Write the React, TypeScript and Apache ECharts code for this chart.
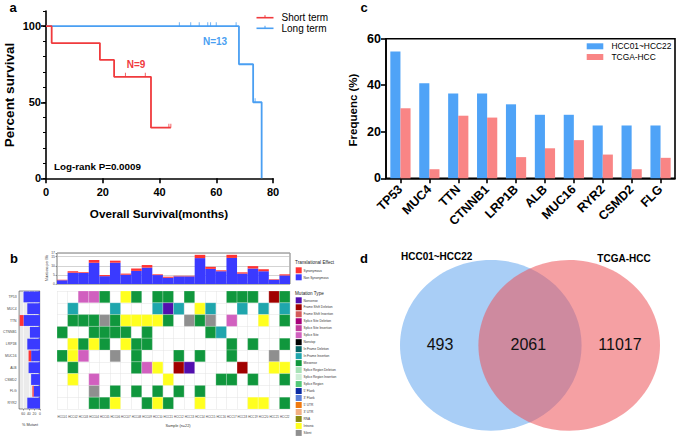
import React, { useEffect, useRef } from 'react';
import * as echarts from 'echarts';

// ---------- Panel a: Kaplan-Meier ----------
const shortTime = [0, 2, 19, 24, 37, 44];
const shortSurv = [100, 88.9, 77.8, 66.7, 33.3, 33.3];
const shortCensorTime = [28, 35, 43.3, 44];
const shortCensorSurv = [66.7, 66.7, 33.3, 33.3];
const longTime = [0, 68, 73, 76];
const longSurv = [100, 75, 50, 0];
const longCensorTime = [47, 51, 54, 57, 58, 60, 67, 73.7];
const longCensorSurv = [100, 100, 100, 100, 100, 100, 100, 50];
const kmXTicks = [0, 20, 40, 60, 80];
const kmYLabels = [0, 50, 100];

// ---------- Panel c: frequency bars ----------
const freqGenes = ['TP53', 'MUC4', 'TTN', 'CTNNB1', 'LRP1B', 'ALB', 'MUC16', 'RYR2', 'CSMD2', 'FLG'];
const hccFreq = [54.5, 40.9, 36.4, 36.4, 31.8, 27.3, 27.3, 22.7, 22.7, 22.7];
const tcgaFreq = [30.1, 3.9, 26.9, 26.1, 9.1, 12.9, 16.4, 10.2, 3.9, 8.8];

// ---------- Panel b: oncoplot ----------
const samples = ['HCC01', 'HCC02', 'HCC03', 'HCC04', 'HCC05', 'HCC06', 'HCC07', 'HCC08', 'HCC09', 'HCC10', 'HCC11',
  'HCC12', 'HCC13', 'HCC14', 'HCC15', 'HCC16', 'HCC17', 'HCC18', 'HCC19', 'HCC20', 'HCC21', 'HCC22'];
const oncoGenes = ['TP53', 'MUC4', 'TTN', 'CTNNB1', 'LRP1B', 'MUC16', 'ALB', 'CSMD2', 'FLG', 'RYR2'];
// codes: . none, M missense, Y intronic, G silent, P splice site, R frame shift deletion, U nonsense, T in frame insertion
const rowTP53 = '..PPM.YM.MM.M...MMM.RM';
const rowMUC4 = '.T...T...TUT.YT..T.T.T';
const rowTTN = '.MMMGMYYYYM.GMG.P..Y.M';
const rowCTNNB1 = 'M..MMMM.M.....MT......';
const rowLRP1B = '.YMYM.YMM.......M.M..M';
const rowMUC16 = 'MYP..G.M...M.M..M...G.';
const rowALB = '.M.....MPY.RU....R..YY';
const rowCSMD2 = '.Y.P......Y....MM.M..M';
const rowFLG = '...G.M.M.M.M.M........';
const rowRYR2 = '...MMY..MYM..Y....YY.M';
const oncoRows = [rowTP53, rowMUC4, rowTTN, rowCTNNB1, rowLRP1B, rowMUC16, rowALB, rowCSMD2, rowFLG, rowRYR2];
const cellColors: Record<string, string> = {
  M: '#10973d', Y: '#ffff1f', G: '#8f8f8f', P: '#d160bf', R: '#a10000', U: '#520fae', T: '#1fa6ad',
};

const tmbNonSyn = [2.0, 6.2, 6.0, 11.7, 4.3, 11.7, 5.1, 7.2, 9.0, 4.9, 3.4, 4.2, 4.2, 14.2, 8.3, 7.0, 14.3, 5.7, 8.5, 7.0, 2.3, 4.7];
const tmbSyn = [0.3, 0.8, 0.4, 1.5, 0.6, 1.1, 0.6, 1.3, 1.4, 0.4, 0.6, 0.3, 0.3, 1.8, 1.1, 0.5, 1.7, 0.7, 1.3, 1.1, 0.3, 0.6];

const mutantNonSyn = [59.1, 45.5, 59.1, 36.4, 45.5, 31.8, 40.9, 31.8, 22.7, 45.5];
const mutantSyn = [0, 0, 13.6, 0, 0, 9.1, 0, 0, 4.5, 0];

const mutationTypeNames = ['Nonsense', 'Frame Shift Deletion', 'Frame Shift Insertion', 'Splice Site Deletion',
  'Splice Site Insertion', 'Splice Site', 'Nonstop', 'In Frame Deletion', 'In Frame Insertion', 'Missense',
  'Splice Region Deletion', 'Splice Region Insertion', 'Splice Region', "5' Flank", "3' Flank", "5' UTR",
  "3' UTR", 'RNA', 'Intronic', 'Silent'];
const mutationTypeColors = ['#520fae', '#a10000', '#d45a5a', '#a8007a', '#c23c9e', '#d160bf', '#000000', '#066666',
  '#1fa6ad', '#10973d', '#a6e2b6', '#cdeed6', '#55c97a', '#0a2aa3', '#5c80d8', '#f07a10', '#f2b083', '#8a8a10',
  '#ffff1f', '#8f8f8f'];
const effectNames = ['Synonymous', 'Non Synonymous'];
const effectColors = ['#ff3333', '#3a3aff'];

// ---------- Panel d: Venn ----------
const vennSets = ['HCC01~HCC22', 'TCGA-HCC'];
const vennCounts = [493, 2061, 11017];

const RED_A = '#f03a3d';
const BLUE_A = '#4a9ff2';
const BLUE_C = '#4fa3f7';
const RED_C = '#f98585';
const FONT = 'Arial, "Liberation Sans", sans-serif';

function buildOption(): any {
  const oncoData: any[] = [];
  oncoRows.forEach((row, gi) => {
    row.split('').forEach((c, si) => {
      if (c !== '.') oncoData.push({ value: [si, gi, c] });
    });
  });

  const txt = (x: number, y: number, text: string, size: number, opts: any = {}) => ({
    type: 'text', x, y, rotation: opts.rotation || 0, silent: true,
    style: {
      text, fill: opts.color || '#000', fontSize: size, fontWeight: opts.bold ? 'bold' : 'normal',
      fontFamily: FONT, align: opts.align || 'center', verticalAlign: opts.valign || 'middle',
    },
  });

  const graphics: any[] = [];
  // panel letters
  graphics.push(txt(13, 7, 'a', 13, { bold: true }));
  graphics.push(txt(14, 258, 'b', 13, { bold: true }));
  graphics.push(txt(364, 7, 'c', 13, { bold: true }));
  graphics.push(txt(364, 258, 'd', 13, { bold: true }));

  // panel a texts
  graphics.push(txt(9, 95, 'Percent survival', 13.5, { bold: true, rotation: Math.PI / 2 }));
  graphics.push(txt(159, 213, 'Overall Survival(months)', 11.7, { bold: true }));
  graphics.push(txt(215, 41, 'N=13', 10, { bold: true, color: BLUE_A }));
  graphics.push(txt(136, 64, 'N=9', 10, { bold: true, color: RED_A }));
  graphics.push(txt(54, 166, 'Log-rank P=0.0009', 9.8, { bold: true, align: 'left' }));
  // panel a legend
  [['Short term', RED_A, 17.7], ['Long term', BLUE_A, 28.3]].forEach(([name, col, y]: any) => {
    graphics.push({ type: 'line', shape: { x1: 256.5, y1: y, x2: 273.5, y2: y }, style: { stroke: col, lineWidth: 1.6 } });
    graphics.push({ type: 'line', shape: { x1: 265, y1: y - 2.5, x2: 265, y2: y }, style: { stroke: col, lineWidth: 1 } });
    graphics.push(txt(281.5, y, name, 10, { align: 'left' }));
  });

  // panel c texts
  graphics.push(txt(353, 110, 'Frequenc (%)', 11.5, { bold: true, rotation: Math.PI / 2 }));
  [[vennSets[0], BLUE_C, 46.3], [vennSets[1], RED_C, 57]].forEach(([name, col, y]: any) => {
    graphics.push({ type: 'rect', shape: { x: 586.7, y: y - 3, width: 16.6, height: 6 }, style: { fill: col } });
    graphics.push(txt(611.5, y, name, 8.4, { align: 'left' }));
  });

  // panel b texts
  graphics.push(txt(46.5, 268, 'Mutations per Mb', 3.4, { rotation: Math.PI / 2, color: '#333' }));
  graphics.push(txt(178, 425.5, 'Sample (n=22)', 3.8, { color: '#333' }));
  graphics.push(txt(30, 425, '% Mutant', 3.8, { color: '#333' }));
  graphics.push(txt(295, 262, 'Translational Effect', 4.6, { align: 'left', color: '#222' }));
  effectNames.forEach((n, i) => {
    const y = 270.3 + i * 7;
    graphics.push({ type: 'rect', shape: { x: 295.7, y: y - 3, width: 6, height: 6 }, style: { fill: effectColors[i] } });
    graphics.push(txt(303.5, y, n, 3.2, { align: 'left', color: '#333' }));
  });
  graphics.push(txt(295, 293.3, 'Mutation Type', 4.6, { align: 'left', color: '#222' }));
  mutationTypeNames.forEach((n, i) => {
    const y = 300.3 + i * 6.98;
    graphics.push({ type: 'rect', shape: { x: 295.7, y: y - 3, width: 6, height: 6 }, style: { fill: mutationTypeColors[i] } });
    graphics.push(txt(303.5, y, n, 3.2, { align: 'left', color: '#333' }));
  });

  // panel d venn
  graphics.push({ type: 'ellipse', shape: { cx: 490.8, cy: 345.3, rx: 90.8, ry: 85.4 }, style: { fill: '#a9cef6' } });
  graphics.push({ type: 'ellipse', shape: { cx: 569.2, cy: 345.3, rx: 90.8, ry: 85.4 }, style: { fill: 'rgba(237,82,88,0.55)' } });
  graphics.push(txt(436.7, 256, vennSets[0], 10, { bold: true }));
  graphics.push(txt(624, 258, vennSets[1], 10, { bold: true }));
  graphics.push(txt(440, 344, String(vennCounts[0]), 16, { color: '#111' }));
  graphics.push(txt(528.3, 344, String(vennCounts[1]), 16, { color: '#111' }));
  graphics.push(txt(620, 344, String(vennCounts[2]), 16, { color: '#111' }));

  const blackLine = { show: true, lineStyle: { color: '#000', width: 1.6 } };
  const boldLabel = (size: number) => ({ color: '#000', fontSize: size, fontWeight: 'bold', fontFamily: FONT });
  const tiny = { color: '#444', fontSize: 3.4, fontFamily: FONT };

  return {
    animation: false,
    backgroundColor: '#fff',
    graphic: graphics,
    grid: [
      { left: 46, top: 11, width: 227, height: 167.3 },
      { left: 386, top: 38.7, width: 289, height: 139.6, show: true, borderColor: '#000', borderWidth: 1.6 },
      { left: 57, top: 253, width: 233, height: 31, show: true, borderColor: '#555', borderWidth: 0.8 },
      { left: 57, top: 291, width: 233, height: 118 },
      { left: 16, top: 291, width: 24, height: 118, show: true, backgroundColor: '#ebebeb', borderColor: '#444', borderWidth: 0.6 },
    ],
    xAxis: [
      {
        gridIndex: 0, type: 'value', min: 0, max: 80, interval: 20,
        axisLine: blackLine, axisTick: { show: true, length: 5, lineStyle: { color: '#000', width: 1.6 } },
        axisLabel: { ...boldLabel(11), margin: 8, customValues: kmXTicks }, splitLine: { show: false },
      },
      {
        gridIndex: 1, type: 'category', data: freqGenes,
        axisLine: blackLine, axisTick: { show: true, alignWithLabel: true, length: 5, lineStyle: { color: '#000', width: 1.6 } },
        axisLabel: { ...boldLabel(12.5), rotate: 45, interval: 0, margin: 9 },
      },
      {
        gridIndex: 2, type: 'category', data: samples,
        axisLine: { show: false }, axisTick: { show: false }, axisLabel: { show: false },
      },
      {
        gridIndex: 3, type: 'category', data: samples,
        axisLine: { show: false }, axisTick: { show: false },
        axisLabel: { ...tiny, fontSize: 2.9, interval: 0, margin: 6 },
        splitLine: { show: true, interval: 0, lineStyle: { color: '#e3e3e3', width: 0.5 } },
      },
      {
        gridIndex: 4, type: 'value', inverse: true, min: 0, max: 75,
        axisLine: { show: false },
        axisTick: { show: true, length: 1.5, customValues: [0, 20, 40, 60], lineStyle: { color: '#444', width: 0.5 } },
        axisLabel: { ...tiny, margin: 3, customValues: [0, 20, 40, 60] },
        splitLine: { show: true, lineStyle: { color: '#ffffff', width: 0.6 } },
        interval: 20,
      },
    ],
    yAxis: [
      {
        gridIndex: 0, type: 'value', min: 0, max: 110, position: 'left',
        axisLine: blackLine,
        axisTick: { show: true, length: 5, customValues: kmYLabels, lineStyle: { color: '#000', width: 1.6 } },
        axisLabel: { ...boldLabel(11), margin: 5, customValues: kmYLabels }, splitLine: { show: false },
      },
      {
        gridIndex: 0, type: 'value', min: 0, max: 110, interval: 10, position: 'left', offset: 0,
        axisLine: { show: false }, axisTick: { show: true, length: 3, lineStyle: { color: '#000', width: 1 } },
        axisLabel: { show: false }, splitLine: { show: false },
      },
      {
        gridIndex: 1, type: 'value', min: 0, max: 60, interval: 20,
        axisLine: blackLine, axisTick: { show: true, length: 5, lineStyle: { color: '#000', width: 1.6 } },
        axisLabel: { ...boldLabel(12.5), margin: 5 }, splitLine: { show: false },
      },
      {
        gridIndex: 2, type: 'value', min: 0, max: 17, interval: 5,
        axisLine: { show: false }, axisTick: { show: true, length: 1.5, lineStyle: { color: '#444', width: 0.5 } },
        axisLabel: { ...tiny, margin: 2 },
        splitLine: { show: true, lineStyle: { color: '#b5b5b5', width: 0.6 } },
      },
      {
        gridIndex: 3, type: 'category', data: oncoGenes, inverse: true,
        axisLine: { show: false }, axisTick: { show: false }, axisLabel: { show: false },
        splitLine: { show: true, interval: 0, lineStyle: { color: '#e3e3e3', width: 0.5 } },
      },
      {
        gridIndex: 4, type: 'category', data: oncoGenes, inverse: true,
        axisLine: { show: false }, axisTick: { show: true, length: 1.5, lineStyle: { color: '#444', width: 0.5 } },
        axisLabel: { ...tiny, interval: 0, margin: 2.5 },
      },
    ],
    series: [
      {
        type: 'line', name: 'Short term', xAxisIndex: 0, yAxisIndex: 0, step: 'end', symbol: 'none',
        data: shortTime.map((t, i) => [t, shortSurv[i]]), lineStyle: { color: RED_A, width: 1.8 }, z: 4,
      },
      {
        type: 'line', name: 'Long term', xAxisIndex: 0, yAxisIndex: 0, step: 'end', symbol: 'none',
        data: longTime.map((t, i) => [t, longSurv[i]]), lineStyle: { color: BLUE_A, width: 1.8 }, z: 3,
      },
      {
        type: 'scatter', xAxisIndex: 0, yAxisIndex: 0, symbol: 'rect', symbolSize: [1, 4], symbolOffset: [0, -2],
        data: shortCensorTime.map((t, i) => [t, shortCensorSurv[i]]), itemStyle: { color: RED_A }, z: 5,
      },
      {
        type: 'scatter', xAxisIndex: 0, yAxisIndex: 0, symbol: 'rect', symbolSize: [1, 4], symbolOffset: [0, -2],
        data: longCensorTime.map((t, i) => [t, longCensorSurv[i]]), itemStyle: { color: BLUE_A }, z: 5,
      },
      {
        type: 'bar', name: vennSets[0], xAxisIndex: 1, yAxisIndex: 2, data: hccFreq,
        itemStyle: { color: BLUE_C }, barGap: '0%', barCategoryGap: '30%',
      },
      {
        type: 'bar', name: vennSets[1], xAxisIndex: 1, yAxisIndex: 2, data: tcgaFreq,
        itemStyle: { color: RED_C }, barGap: '0%', barCategoryGap: '30%',
      },
      {
        type: 'bar', xAxisIndex: 2, yAxisIndex: 3, stack: 'tmb', data: tmbNonSyn,
        itemStyle: { color: effectColors[1] }, barCategoryGap: '0%',
      },
      {
        type: 'bar', xAxisIndex: 2, yAxisIndex: 3, stack: 'tmb', data: tmbSyn,
        itemStyle: { color: effectColors[0] }, barCategoryGap: '0%',
      },
      {
        type: 'custom', xAxisIndex: 3, yAxisIndex: 4, data: oncoData,
        renderItem: (params: any, api: any) => {
          const xi = api.value(0);
          const yi = api.value(1);
          const code = oncoData[params.dataIndex].value[2];
          const p = api.coord([xi, yi]);
          const s = api.size([1, 1]);
          return {
            type: 'rect',
            shape: { x: p[0] - s[0] / 2, y: p[1] - s[1] / 2, width: s[0], height: s[1] },
            style: { fill: cellColors[code], stroke: 'rgba(255,255,255,0.45)', lineWidth: 0.5 },
          };
        },
      },
      {
        type: 'bar', xAxisIndex: 4, yAxisIndex: 5, stack: 'mut', data: mutantNonSyn,
        itemStyle: { color: effectColors[1] }, barCategoryGap: '8%',
      },
      {
        type: 'bar', xAxisIndex: 4, yAxisIndex: 5, stack: 'mut', data: mutantSyn,
        itemStyle: { color: effectColors[0] }, barCategoryGap: '8%',
      },
    ],
  };
}

export default function App() {
  const ref = useRef<HTMLDivElement>(null);
  useEffect(() => {
    if (!ref.current) return;
    const chart = echarts.init(ref.current, null, { renderer: 'svg' });
    chart.setOption(buildOption());
    return () => chart.dispose();
  }, []);
  return (
    <div
      ref={ref}
      style={{ position: 'fixed', left: 0, top: 0, width: 677, height: 438, background: '#fff' }}
    />
  );
}
